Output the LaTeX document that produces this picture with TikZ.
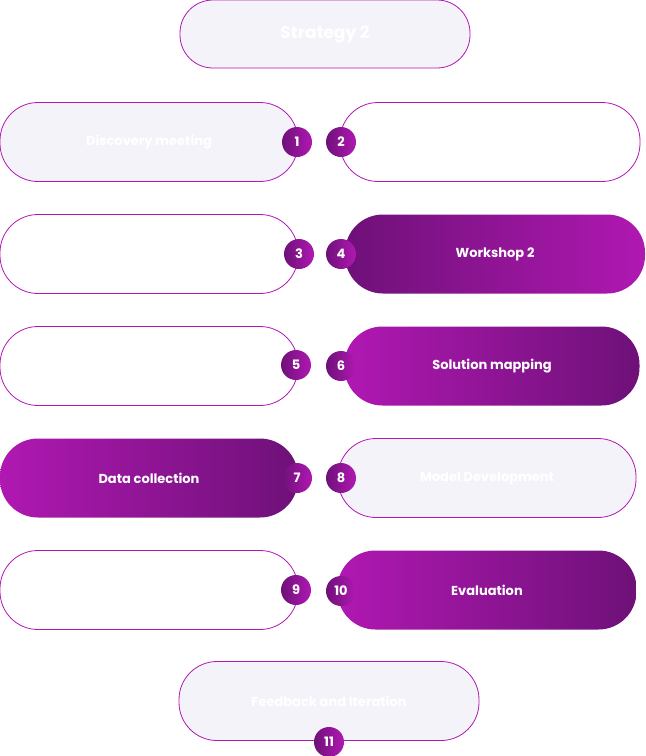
\documentclass[tikz,border=0pt]{standalone}
\usepackage{fontspec}
\setmainfont{Poppins}
\definecolor{pdark}{HTML}{6E1178}
\definecolor{pmid}{HTML}{B018B2}
\definecolor{plight}{HTML}{F4F3FA}
\tikzset{
  pill/.style={draw=pmid, line width=0.8pt, rounded corners=38pt, minimum height=79pt, inner sep=0pt, text=white, font=\fontsize{13}{16}\selectfont\bfseries, align=center},
  lightpill/.style={pill, fill=plight},
  whitepill/.style={pill, fill=white},
  gradLR/.style={pill, draw=none, left color=pmid, right color=pdark},
  gradRL/.style={pill, draw=none, left color=pdark, right color=pmid},
  num/.style={circle, minimum size=30pt, inner sep=0pt, left color=pdark, right color=pmid, text=white, font=\fontsize{13}{16}\selectfont\bfseries}
}
\begin{document}
\begin{tikzpicture}[x=1pt,y=-1pt]
\useasboundingbox (0,0) rectangle (646,756);
\node[lightpill, minimum width=290pt, minimum height=68pt, rounded corners=33pt, font=\fontsize{17}{20}\selectfont\bfseries] (t) at (325,34) {Strategy 2};
\node[lightpill, minimum width=298pt] (b1) at (149,142) {Discovery meeting};
\node[whitepill, minimum width=300pt] (b2) at (490,142) {Workshop 1};
\node[whitepill, minimum width=298pt] (b3) at (149,254) {Deep analysis phase for\\the AI strategy};
\node[gradRL, minimum width=300pt] (b4) at (495,254) {Workshop 2};
\node[whitepill, minimum width=298pt] (b5) at (149,366) {Report and Results};
\node[gradLR, minimum width=295pt] (b6) at (492,366) {Solution mapping};
\node[gradLR, minimum width=298pt] (b7) at (149,478) {Data collection};
\node[lightpill, minimum width=298pt] (b8) at (487,478) {Model Development};
\node[whitepill, minimum width=298pt] (b9) at (149,590) {Pilot Deployment};
\node[gradLR, minimum width=299pt] (b10) at (487,590) {Evaluation};
\node[lightpill, minimum width=300pt] (b11) at (329,701) {Feedback and Iteration};
\node[num] (n1) at (297,142) {1};
\node[num] (n2) at (341,142) {2};
\node[num] (n3) at (299,254) {3};
\node[num] (n4) at (341,254) {4};
\node[num] (n5) at (296,365) {5};
\node[num] (n6) at (341,366) {6};
\node[num] (n7) at (297,478) {7};
\node[num] (n8) at (341,478) {8};
\node[num] (n9) at (296,590) {9};
\node[num] (n10) at (341,591) {10};
\node[num] (n11) at (329,742) {11};
\end{tikzpicture}
\end{document}
